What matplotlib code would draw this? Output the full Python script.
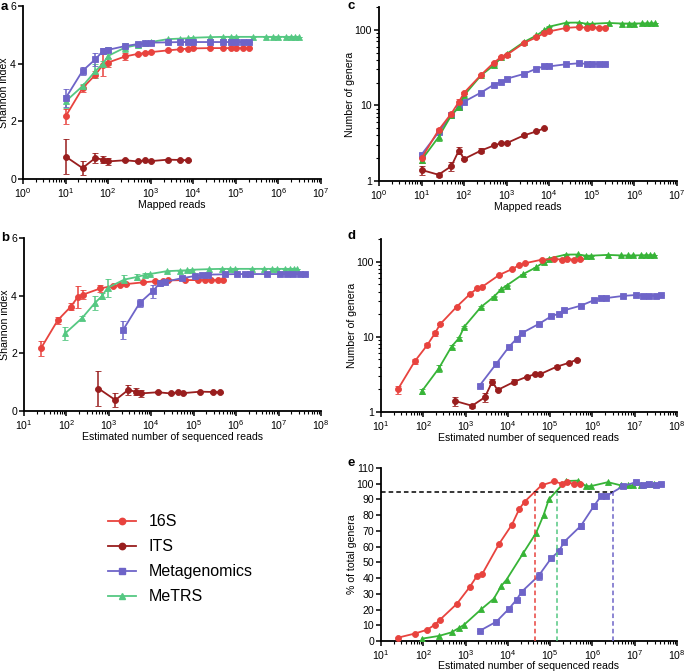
import matplotlib
matplotlib.use('Agg')
import matplotlib.pyplot as plt
from matplotlib.lines import Line2D
from matplotlib.ticker import LogLocator, FixedLocator, NullFormatter, FixedFormatter
import numpy as np

plt.rcParams['font.family'] = ['Liberation Sans', 'DejaVu Sans']
plt.rcParams['mathtext.fontset'] = 'custom'
plt.rcParams['mathtext.rm'] = 'Liberation Sans'
plt.rcParams['mathtext.it'] = 'Liberation Sans:italic'
plt.rcParams['mathtext.bf'] = 'Liberation Sans:bold'

# ---------------- data ----------------
series = ['16S', 'ITS', 'Metagenomics', 'MeTRS']

# subsampling depths (mapped reads)
depth_16S = [10, 25, 50, 75, 100, 250, 500, 750, 1000, 2500, 5000, 7500, 10000,
             25000, 50000, 75000, 100000, 150000, 200000]
depth_ITS = [10, 25, 50, 75, 100, 250, 500, 750, 1000, 2500, 5000, 7500]
depth_meta = [10, 25, 50, 75, 100, 250, 500, 750, 1000, 2500, 5000, 7500, 10000,
              25000, 50000, 75000, 100000, 150000, 200000]
depth_metrs = [10, 25, 50, 75, 100, 250, 500, 750, 1000, 2500, 5000, 7500, 10000,
               25000, 50000, 75000, 100000, 250000, 500000, 750000, 1000000,
               1500000, 2000000, 2500000, 3000000]

# estimated sequenced reads per mapped read
seq_per_mapped = {'16S': 2.5, 'ITS': 57, 'Metagenomics': 214, 'MeTRS': 9.3}

# Shannon index
shannon_16S = [2.17, 3.15, 3.61, 3.96, 4.04, 4.25, 4.34, 4.37, 4.40, 4.46, 4.50, 4.52, 4.53,
               4.54, 4.54, 4.54, 4.54, 4.54, 4.54]
shannon_16S_err = [0.25, 0.12, 0.12, 0.38, 0.15, 0.12, 0.04, 0.03, 0.03, 0.03, 0.02, 0.02, 0.02,
                   0.01, 0.01, 0.01, 0.01, 0.01, 0.01]
shannon_ITS = [0.78, 0.38, 0.73, 0.67, 0.61, 0.65, 0.61, 0.65, 0.62, 0.67, 0.66, 0.65]
shannon_ITS_err = [0.6, 0.25, 0.17, 0.13, 0.13, 0.03, 0.03, 0.02, 0.02, 0.02, 0.02, 0.01]
shannon_meta = [2.80, 3.75, 4.15, 4.44, 4.48, 4.61, 4.68, 4.71, 4.73, 4.74, 4.75, 4.75, 4.75,
                4.75, 4.75, 4.75, 4.75, 4.75, 4.75]
shannon_meta_err = [0.32, 0.15, 0.22, 0.1, 0.08, 0.05, 0.04, 0.03, 0.02, 0.02, 0.01, 0.01, 0.01,
                    0.01, 0.01, 0.01, 0.01, 0.01, 0.01]
shannon_metrs = [2.69, 3.22, 3.74, 4.0, 4.27, 4.56, 4.65, 4.72, 4.75, 4.85, 4.87, 4.88, 4.90,
                 4.92, 4.93, 4.93, 4.93, 4.93, 4.93, 4.93, 4.93, 4.93, 4.93, 4.93, 4.93]
shannon_metrs_err = [0.22, 0.06, 0.25, 0.1, 0.3, 0.15, 0.1, 0.05, 0.03, 0.02, 0.02, 0.02, 0.01,
                     0.01, 0.01, 0.01, 0.01, 0.01, 0.01, 0.01, 0.01, 0.01, 0.01, 0.01, 0.01]

# Number of genera
genera_16S = [2.0, 4.7, 7.8, 11.1, 14.7, 25.3, 36.7, 44, 46.5, 66.5, 79.5, 90, 95,
              106, 108.5, 106.5, 107.5, 106.5, 107]
genera_16S_err = [0.25, 0.3, 0.4, 1.0, 0.5, 0.5, 0.5, 0.5, 0.5, 0.5, 0.5, 0.5, 0.5,
                  0.5, 0.5, 0.5, 0.5, 0.5, 0.5]
genera_ITS = [1.4, 1.21, 1.57, 2.53, 1.96, 2.53, 2.95, 3.17, 3.17, 4.0, 4.53, 4.97]
genera_ITS_err = [0.2, 0.08, 0.2, 0.25, 0.05, 0.2, 0.05, 0.05, 0.05, 0.2, 0.1, 0.05]
genera_meta = [2.24, 4.4, 7.4, 9.4, 11.2, 14.8, 18.8, 20.3, 22.5, 26, 30.6, 32.8, 32.8,
               35, 36, 35.4, 35.4, 35.4, 35.6]
genera_meta_err = [0.1] * 19
genera_metrs = [1.9, 3.8, 7.4, 9.6, 13.6, 25, 34, 43, 48, 68.5, 84, 98, 110,
                124, 124.5, 120, 120, 123, 121, 121, 121, 121.5, 122, 122, 122]
genera_metrs_err = [0.15, 0.4, 0.3, 0.4, 0.4, 0.5, 0.5, 0.5, 0.5, 0.5, 0.5, 0.5, 0.5,
                    0.5, 0.5, 0.5, 0.5, 0.5, 0.5, 0.5, 0.5, 0.5, 0.5, 0.5, 0.5]

# % of total genera
pct_16S = [2.1, 4.7, 7.2, 10.4, 13.6, 23.7, 34.3, 41.5, 42.8, 61.9, 74, 84.1, 88.6,
           99, 101.5, 100, 100.9, 99.8, 100]
pct_meta = [6.4, 12.3, 20.6, 26.3, 31.4, 41.5, 52.8, 57, 63, 73.3, 85.6, 92.2, 92.2,
            98.5, 101, 99.4, 99.6, 99.4, 100]
pct_meta_err = [0, 0, 0, 0, 1.5, 2.5, 1, 1.5, 1.5, 2, 1.5, 1.5, 1.5, 1, 1, 0.5, 0.5, 0.5, 0.5]
pct_metrs = [1.5, 3.2, 5.5, 8.3, 10.4, 20.1, 26.9, 35, 39, 56, 68.7, 80, 90,
             101.7, 102, 98.5, 98.5, 101, 99, 99, 99, 99.3, 99.6, 99.6, 99.6]

threshold_level = 95
threshold_reads = {'16S': 44000, 'MeTRS': 148000, 'Metagenomics': 3.1e6}

# ---------------- style ----------------
col = {'16S': '#e8433e', 'ITS': '#991e1e', 'Metagenomics': '#6e64c8',
       'MeTRS_ab': '#55c882', 'MeTRS_cde': '#37b437'}
mk = {'16S': 'o', 'ITS': 'o', 'Metagenomics': 's', 'MeTRS': '^'}
ms = {'16S': 4.3, 'ITS': 4.3, 'Metagenomics': 4.6, 'MeTRS': 4.3}

FS = 7.6
W, H = 685, 672
fig = plt.figure(figsize=(W / 100, H / 100), dpi=100)


def axes_px(l, t, r, b):
    return fig.add_axes([l / W, 1 - b / H, (r - l) / W, (b - t) / H])


def style(ax, xmin_exp, xmax_exp, logy=False):
    for s in ['top', 'right']:
        ax.spines[s].set_visible(False)
    for s in ['left', 'bottom']:
        ax.spines[s].set_linewidth(1.3)
    ax.set_xscale('log')
    ax.set_xlim(10.0 ** xmin_exp, 10.0 ** xmax_exp)
    exps = list(range(xmin_exp, xmax_exp + 1))
    ax.xaxis.set_major_locator(FixedLocator([10.0 ** e for e in exps]))
    ax.xaxis.set_major_formatter(FixedFormatter(
        [r'$\mathdefault{10^{%d}}$' % e for e in exps]))
    minors = [m * 10.0 ** e for e in exps[:-1] for m in range(2, 10)]
    ax.xaxis.set_minor_locator(FixedLocator(minors))
    ax.xaxis.set_minor_formatter(NullFormatter())
    ax.tick_params(axis='both', which='major', direction='out', length=3.5, width=1.1,
                   labelsize=FS, pad=1.5)
    ax.tick_params(axis='both', which='minor', direction='out', length=2, width=0.8)
    if logy:
        ax.set_yscale('log')
        ax.set_ylim(1, 200)
        ax.yaxis.set_major_locator(FixedLocator([1, 10, 100]))
        ax.yaxis.set_major_formatter(FixedFormatter(['1', '10', '100']))
        yminors = [m * 10.0 ** e for e in (0, 1) for m in range(2, 10)] + [200]
        ax.yaxis.set_minor_locator(FixedLocator(yminors))
        ax.yaxis.set_minor_formatter(NullFormatter())


def labels(ax, xl, yl, label_right_px, axis_left_px, axis_width_px, xpad=0.0):
    ax.set_xlabel(xl, fontsize=FS, labelpad=xpad)
    ax.set_ylabel(yl, fontsize=FS)
    ax.yaxis.set_label_coords((label_right_px - axis_left_px) / axis_width_px, 0.5)


def draw(ax, x, y, err, key, ckey):
    kw = dict(color=col[ckey], marker=mk[key], markersize=ms[key], linewidth=1.3,
              markeredgewidth=0.6, zorder=3)
    if err is not None:
        ax.errorbar(x, y, yerr=err, capsize=2.2, elinewidth=1.1, capthick=1.1, **kw)
    else:
        ax.plot(x, y, **kw)


def scaled(depths, key):
    return [d * seq_per_mapped[key] for d in depths]


# ---- panel a ----
axa = axes_px(23, 6, 321, 179)
style(axa, 0, 7)
draw(axa, depth_ITS, shannon_ITS, shannon_ITS_err, 'ITS', 'ITS')
draw(axa, depth_16S, shannon_16S, shannon_16S_err, '16S', '16S')
draw(axa, depth_metrs, shannon_metrs, shannon_metrs_err, 'MeTRS', 'MeTRS_ab')
draw(axa, depth_meta, shannon_meta, shannon_meta_err, 'Metagenomics', 'Metagenomics')
axa.set_ylim(0, 6)
axa.set_yticks([0, 2, 4, 6])
labels(axa, 'Mapped reads', 'Shannon index', 9.5, 23, 298)

# ---- panel b ----
axb = axes_px(24, 238, 321, 411)
style(axb, 1, 8)
draw(axb, scaled(depth_ITS, 'ITS'), shannon_ITS, shannon_ITS_err, 'ITS', 'ITS')
draw(axb, scaled(depth_16S, '16S'), shannon_16S, shannon_16S_err, '16S', '16S')
draw(axb, scaled(depth_metrs, 'MeTRS'), shannon_metrs, shannon_metrs_err, 'MeTRS', 'MeTRS_ab')
draw(axb, scaled(depth_meta, 'Metagenomics'), shannon_meta, shannon_meta_err, 'Metagenomics', 'Metagenomics')
axb.set_ylim(0, 6)
axb.set_yticks([0, 2, 4, 6])
labels(axb, 'Estimated number of sequenced reads', 'Shannon index', 9.5, 24, 297)

# ---- panel c ----
axc = axes_px(379, 7, 677, 181)
style(axc, 0, 7, logy=True)
draw(axc, depth_ITS, genera_ITS, genera_ITS_err, 'ITS', 'ITS')
draw(axc, depth_meta, genera_meta, genera_meta_err, 'Metagenomics', 'Metagenomics')
draw(axc, depth_metrs, genera_metrs, genera_metrs_err, 'MeTRS', 'MeTRS_cde')
draw(axc, depth_16S, genera_16S, genera_16S_err, '16S', '16S')
labels(axc, 'Mapped reads', 'Number of genera', 355, 379, 298)

# ---- panel d ----
axd = axes_px(381, 239, 677, 412)
style(axd, 1, 8, logy=True)
draw(axd, scaled(depth_ITS, 'ITS'), genera_ITS, genera_ITS_err, 'ITS', 'ITS')
draw(axd, scaled(depth_meta, 'Metagenomics'), genera_meta, genera_meta_err, 'Metagenomics', 'Metagenomics')
draw(axd, scaled(depth_metrs, 'MeTRS'), genera_metrs, genera_metrs_err, 'MeTRS', 'MeTRS_cde')
draw(axd, scaled(depth_16S, '16S'), genera_16S, genera_16S_err, '16S', '16S')
labels(axd, 'Estimated number of sequenced reads', 'Number of genera', 357, 381, 296)

# ---- panel e ----
axe = axes_px(381, 468, 677, 641)
style(axe, 1, 8)
draw(axe, scaled(depth_meta, 'Metagenomics'), pct_meta, pct_meta_err, 'Metagenomics', 'Metagenomics')
draw(axe, scaled(depth_metrs, 'MeTRS'), pct_metrs, None, 'MeTRS', 'MeTRS_cde')
draw(axe, scaled(depth_16S, '16S'), pct_16S, None, '16S', '16S')
axe.set_ylim(0, 110)
axe.set_yticks(np.arange(0, 111, 10))
axe.hlines(threshold_level, 10, threshold_reads['Metagenomics'], colors='black',
           linestyles=(0, (3, 2)), linewidth=1.1, zorder=4)
axe.vlines(threshold_reads['16S'], 0, threshold_level, colors=col['16S'],
           linestyles=(0, (3, 2)), linewidth=1.1, zorder=4)
axe.vlines(threshold_reads['MeTRS'], 0, threshold_level, colors=col['MeTRS_ab'],
           linestyles=(0, (3, 2)), linewidth=1.1, zorder=4)
axe.vlines(threshold_reads['Metagenomics'], 0, threshold_level, colors=col['Metagenomics'],
           linestyles=(0, (3, 2)), linewidth=1.1, zorder=4)
labels(axe, 'Estimated number of sequenced reads', '% of total genera', 357, 381, 296, xpad=-0.5)

# ---- panel letters ----
for lab, (px, py) in zip('abcde', [(1, 1), (1, 232), (347, 0), (347, 230), (347, 457)]):
    fig.text(px / W, 1 - py / H, lab, fontsize=9.5, fontweight='bold', ha='left', va='top')

# ---- legend ----
handles = [
    Line2D([], [], color=col['16S'], marker='o', markersize=4.6, linewidth=1.3),
    Line2D([], [], color=col['ITS'], marker='o', markersize=4.6, linewidth=1.3),
    Line2D([], [], color=col['Metagenomics'], marker='s', markersize=4.8, linewidth=1.3),
    Line2D([], [], color=col['MeTRS_ab'], marker='^', markersize=4.6, linewidth=1.3),
]
fig.legend(handles, series, loc='upper left', bbox_to_anchor=(102 / W, 1 - 508 / H),
           frameon=False, fontsize=11.5, handlelength=1.7, handletextpad=0.8,
           labelspacing=0.62, borderaxespad=0)

fig.savefig('out.png', dpi=100)
